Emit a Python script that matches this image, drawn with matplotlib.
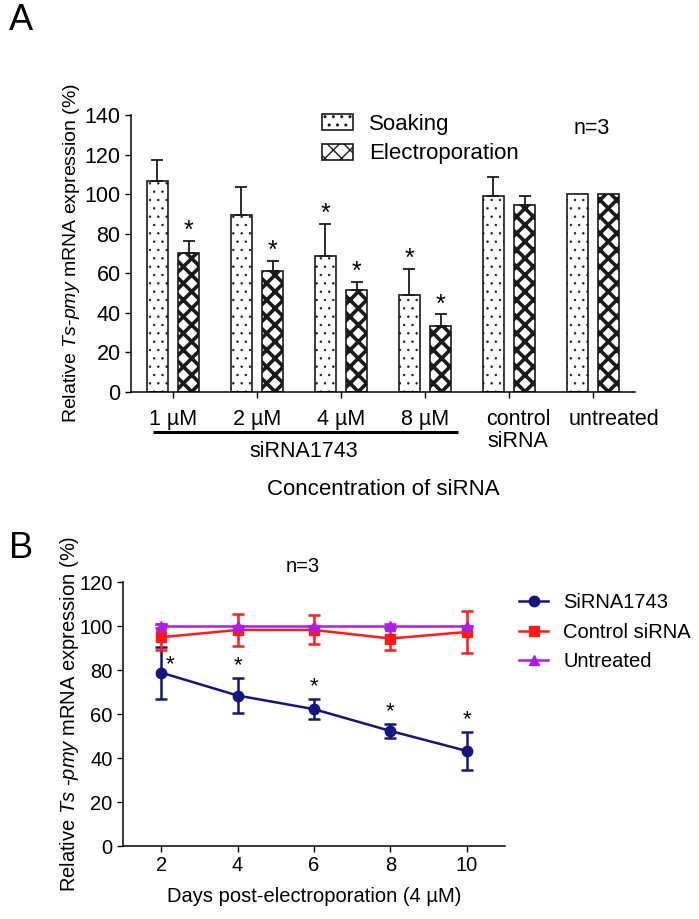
"""
Two-panel figure: Ts-pmy knockdown by siRNA.
A: bar chart of soaking vs electroporation by siRNA concentration.
B: time course after electroporation (4 uM).
"""
import numpy as np
import matplotlib
matplotlib.use("Agg")
import matplotlib.pyplot as plt
from matplotlib.lines import Line2D

plt.rcParams["font.family"] = ["Liberation Sans", "DejaVu Sans"]
plt.rcParams["mathtext.fontset"] = "custom"
plt.rcParams["mathtext.rm"] = "Liberation Sans"
plt.rcParams["mathtext.it"] = "Liberation Sans:italic"

# ---- data: panel A ----
groups = ["1 µM", "2 µM", "4 µM", "8 µM", "control\nsiRNA", "untreated"]
soak_mean = [106.5, 89.5, 68.5, 48.8, 99.0, 100.0]
soak_err = [11.0, 14.0, 16.5, 13.5, 9.5, 0.0]
elec_mean = [70.3, 61.2, 51.6, 33.6, 94.5, 100.0]
elec_err = [6.0, 5.0, 4.2, 5.6, 4.5, 0.0]
soak_sig = [False, False, True, True, False, False]
elec_sig = [True, True, True, True, False, False]

# ---- data: panel B ----
days = [2, 4, 6, 8, 10]
sirna_mean = [78.8, 68.4, 62.2, 52.3, 43.2]
sirna_err = [11.8, 8.0, 4.6, 3.3, 8.5]
ctrl_mean = [94.9, 98.2, 98.2, 94.3, 97.3]
ctrl_err = [6.0, 7.3, 6.6, 5.0, 9.6]
untr_mean = [100, 100, 100, 100, 100]
untr_err = [0.8, 0.0, 0.0, 0.8, 0.0]
sirna_sig = [True, True, True, True, True]

W, H = 699, 919
fig = plt.figure(figsize=(W / 100, H / 100), dpi=100)

def box(l, t, r, b):
    return [l / W, 1 - b / H, (r - l) / W, (b - t) / H]

FA = 15.5   # panel A text size
FB = 14.5   # panel B text size

# ================= Panel A =================
axA = fig.add_axes(box(131, 115, 635, 392))
x = np.arange(len(groups))
off, bw = 0.185, 0.25

with plt.rc_context({"hatch.linewidth": 0.5, "hatch.color": "#555555"}):
    axA.bar(x - off, soak_mean, bw, color="white", edgecolor="#1a1a1a",
            linewidth=1.2, hatch="..", label="Soaking")
with plt.rc_context({"hatch.linewidth": 2.6, "hatch.color": "black"}):
    axA.bar(x + off, elec_mean, bw, color="white", edgecolor="#1a1a1a",
            linewidth=1.2, hatch="xx", label="Electroporation")

for xs, m, e in [(x - off, soak_mean, soak_err), (x + off, elec_mean, elec_err)]:
    sel = np.array(e) > 0
    axA.errorbar(xs[sel], np.array(m)[sel], yerr=[np.zeros(sel.sum()), np.array(e)[sel]],
                 fmt="none", ecolor="#1a1a1a", elinewidth=1.3, capsize=4.5, capthick=1.3)

for xs, m, e, sig in [(x - off, soak_mean, soak_err, soak_sig),
                      (x + off, elec_mean, elec_err, elec_sig)]:
    for xi, mi, ei, s in zip(xs, m, e, sig):
        if s:
            axA.text(xi, mi + ei + 5, "*", ha="center", va="center", fontsize=18)

axA.set_xlim(-0.5, 5.5)
axA.set_ylim(0, 140)
axA.set_yticks(range(0, 141, 20))
axA.set_xticks(x)
axA.set_xticklabels([])
axA.spines[["top", "right"]].set_visible(False)
for s in ["left", "bottom"]:
    axA.spines[s].set_linewidth(1.1)
axA.tick_params(direction="out", length=4.5, width=1.0, labelsize=FA, pad=3)

label_dx = [0, 0, 0, 0, 0.11, 0.25]
for xi, lab, dx in zip(x, groups, label_dx):
    axA.text(xi + dx, -0.062, lab, transform=axA.get_xaxis_transform(),
             ha="center", va="top", fontsize=FA, linespacing=1.05)

axA.plot([-0.24, 3.39], [-0.145, -0.145], transform=axA.get_xaxis_transform(),
         color="black", lw=2.2, clip_on=False, solid_capstyle="butt")
axA.text(1.56, -0.216, "siRNA1743", transform=axA.get_xaxis_transform(),
         ha="center", va="center", fontsize=FA)
fig.text(383 / W, 1 - 489 / H, "Concentration of siRNA", ha="center", va="center",
         fontsize=16)

axA.set_ylabel(r"Relative $\it{Ts}$-$\it{pmy}$ mRNA expression (%)", fontsize=14)
axA.yaxis.set_label_coords(-0.098, 0.5)

axA.legend(loc="upper left", bbox_to_anchor=(322 / W, 1 - 114 / H),
           bbox_transform=fig.transFigure, frameon=False, fontsize=16,
           borderpad=0, borderaxespad=0, handlelength=1.4, handleheight=0.72,
           handletextpad=0.72, labelspacing=0.38)
axA.text(592 / W, 1 - 128 / H, "n=3", transform=fig.transFigure,
         ha="center", va="center", fontsize=FA)

fig.text(9 / W, 1 - 20 / H, "A", ha="left", va="center", fontsize=26)

# ================= Panel B =================
axB = fig.add_axes(box(123, 582, 505, 846))
navy, red, violet = "#15157f", "#ff1a1a", "#a91fe8"

series = [
    (sirna_mean, sirna_err, navy, "o", 7.5, "SiRNA1743"),
    (ctrl_mean, ctrl_err, red, "s", 6.5, "Control siRNA"),
    (untr_mean, untr_err, violet, "^", 7.5, "Untreated"),
]
handles = []
for m, e, c, mk, ms, lab in series:
    axB.errorbar(days, m, yerr=e, fmt="none", ecolor=c, elinewidth=1.8,
                 capsize=4.5, capthick=1.8, clip_on=False)
    axB.plot(days, m, color=c, marker=mk, markersize=ms, lw=1.8, clip_on=False)
    handles.append(Line2D([], [], color=c, marker=mk, markersize=ms, lw=1.8, label=lab))

for i, (d, m, e, s) in enumerate(zip(days, sirna_mean, sirna_err, sirna_sig)):
    if not s:
        continue
    if i == 0:
        axB.text(d + 0.22, m + 3.5, "*", ha="center", va="center", fontsize=16)
    else:
        axB.text(d, m + e + 5.5, "*", ha="center", va="center", fontsize=16)

axB.set_xlim(1, 11)
axB.set_ylim(0, 120)
axB.set_xticks(days)
axB.set_yticks(range(0, 121, 20))
axB.spines[["top", "right"]].set_visible(False)
for s in ["left", "bottom"]:
    axB.spines[s].set_linewidth(1.1)
axB.tick_params(direction="out", length=4.5, width=1.0, labelsize=FB, pad=3)
axB.set_xlabel("Days post-electroporation (4 µM)", fontsize=FB, labelpad=8)
axB.set_ylabel(r"Relative $\it{Ts}$ -$\it{pmy}$ mRNA expression (%)", fontsize=FB)
axB.yaxis.set_label_coords(-0.11, 0.5)

axB.legend(handles=handles, loc="upper left", bbox_to_anchor=(519 / W, 1 - 593 / H),
           bbox_transform=fig.transFigure, frameon=False, fontsize=FB,
           borderpad=0, borderaxespad=0, handlelength=1.45, handletextpad=0.75,
           labelspacing=0.53, numpoints=1)
fig.text(303 / W, 1 - 567 / H, "n=3", ha="center", va="center", fontsize=FB)
fig.text(9 / W, 1 - 549 / H, "B", ha="left", va="center", fontsize=26)

fig.savefig("out.png", dpi=100)
